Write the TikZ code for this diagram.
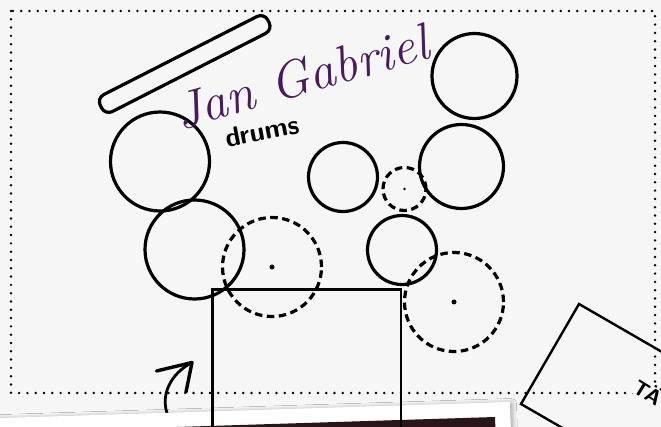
\documentclass[tikz,border=0pt]{standalone}
\usepackage{fontspec}
\usetikzlibrary{shadows.blur}
\definecolor{bg}{HTML}{F6F6F6}
\definecolor{inkpurple}{HTML}{4A1B5C}
\definecolor{darkbar}{HTML}{2A1519}
\begin{document}
\begin{tikzpicture}[x=1pt,y=-1pt,
  drum/.style={circle, draw=black, line width=3.2pt, inner sep=0pt},
  dashdrum/.style={circle, draw=black, line width=3.2pt, inner sep=0pt, dash pattern=on 7.5pt off 4.5pt},
  dotborder/.style={draw=black, line width=2.7pt, line cap=round, dash pattern=on 0pt off 8.3pt},
  hub/.style={fill=black},
  thinline/.style={draw=black, line width=2.4pt}]
\useasboundingbox (0,0) rectangle (661,427);
\fill[bg] (0,0) rectangle (661,427);
% dotted stage border
\draw[dotborder] (11,11) rectangle (655,393);
% rotated note box at right
\coordinate (boxT) at (579,304);
\coordinate (boxL) at (521,404);
\coordinate (boxTR) at (752,404);
\coordinate (boxLR) at (694,504);
\draw[thinline, line join=miter] (boxTR) -- (boxT) -- (boxL) -- (boxLR);
\node[anchor=north west, rotate=-32, font=\sffamily\bfseries\fontsize{21}{21}\selectfont, fill=bg, inner sep=1pt] (tag) at (641,375) {TÄ};
% hand-drawn arrow
\coordinate (arrTail) at (167,413);
\coordinate (arrTip) at (192,362.5);
\coordinate (wingL) at (156.5,371);
\coordinate (wingD) at (186,392);
\draw[line width=2.8pt, line cap=round] (arrTail) .. controls (161,395) and (170,374) .. (arrTip);
\draw[line width=3.4pt, line cap=round, line join=round] (wingL) -- (arrTip) -- (wingD);
% paper with shadow
\fill[white, blur shadow={shadow xshift=1.5pt, shadow yshift=-1.5pt, shadow blur radius=5pt, shadow opacity=40}]
  (-30,419) -- (510,402) -- (511.5,450) -- (-28.5,467) -- cycle;
\fill[darkbar] (-30,433.5) -- (495,417) -- (496.5,460) -- (-28,470) -- cycle;
% drum stick
\node[draw=black, line width=3.2pt, rounded corners=8pt, minimum width=188pt, minimum height=19pt, rotate=27, inner sep=0pt] (stick) at (184.7,64) {};
% drums and cymbals
\node[drum, minimum size=99pt] (cymA) at (160,161.5) {};
\node[drum, minimum size=99pt] (tomB) at (194.5,249.5) {};
\node[dashdrum, minimum size=99pt] (hatC) at (272,267) {};
\node[drum, minimum size=69pt] (tomD) at (343,177) {};
\node[dashdrum, minimum size=43pt] (splE) at (404.5,189) {};
\node[drum, minimum size=84pt] (tomF) at (461.5,166.5) {};
\node[drum, minimum size=85pt] (cymG) at (474.5,76) {};
\node[drum, minimum size=69pt] (tomH) at (402,250) {};
\node[dashdrum, minimum size=99pt] (rideI) at (454,302) {};
\fill[hub] (hatC.center) circle (2.5pt);
\fill[hub] (rideI.center) circle (2.5pt);
\fill[hub] (splE.center) circle (1.3pt);
% bass drum
\coordinate (kickTL) at (212.5,289.5);
\coordinate (kickTR) at (400.8,289.5);
\coordinate (kickBL) at (212.5,440);
\coordinate (kickBR) at (400.8,440);
\draw[thinline, line join=miter] (kickBL) -- (kickTL) -- (kickTR) -- (kickBR);
% texts
\node[anchor=base, rotate=16, text=inkpurple, font=\itshape\fontsize{52}{52}\selectfont, inner sep=0pt] (name) at (306,94) {Jan Gabriel};
\node[anchor=base, rotate=11, font=\sffamily\bfseries\fontsize{27}{27}\selectfont, inner sep=0pt] (inst) at (264,140) {drums};
\end{tikzpicture}
\end{document}
